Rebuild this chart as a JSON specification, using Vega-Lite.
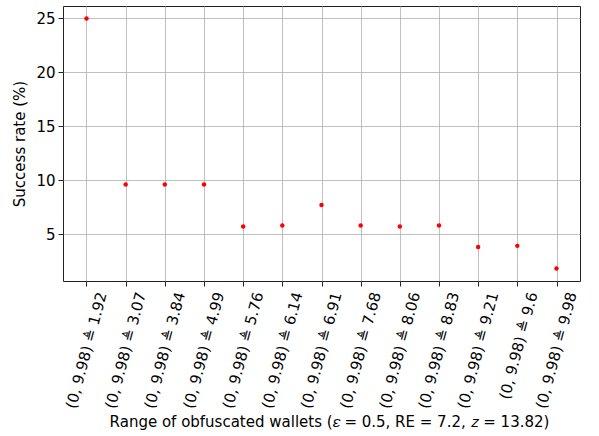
{
  "$schema": "https://vega.github.io/schema/vega-lite/v6.json",
  "width": 517,
  "height": 275,
  "autosize": "none",
  "padding": {"left": 63, "top": 6, "right": 19, "bottom": 155},
  "background": "white",
  "config": {
    "font": "DejaVu Sans",
    "view": {"stroke": "#222222", "strokeWidth": 1},
    "axis": {
      "labelFont": "DejaVu Sans",
      "titleFont": "DejaVu Sans",
      "labelFontSize": 15,
      "titleFontSize": 15,
      "labelColor": "#000000",
      "titleColor": "#000000",
      "titleFontWeight": "normal",
      "tickColor": "#222222",
      "tickSize": 5,
      "domain": false,
      "gridColor": "#b0b0b0",
      "gridWidth": 0.8,
      "gridOpacity": 1
    }
  },
  "data": {
    "values": [
      {"range": "(0, 9.98) ≜ 1.92", "rate": 25.0},
      {"range": "(0, 9.98) ≜ 3.07", "rate": 9.6},
      {"range": "(0, 9.98) ≜ 3.84", "rate": 9.6},
      {"range": "(0, 9.98) ≜ 4.99", "rate": 9.6},
      {"range": "(0, 9.98) ≜ 5.76", "rate": 5.7},
      {"range": "(0, 9.98) ≜ 6.14", "rate": 5.8},
      {"range": "(0, 9.98) ≜ 6.91", "rate": 7.7},
      {"range": "(0, 9.98) ≜ 7.68", "rate": 5.8},
      {"range": "(0, 9.98) ≜ 8.06", "rate": 5.7},
      {"range": "(0, 9.98) ≜ 8.83", "rate": 5.8},
      {"range": "(0, 9.98) ≜ 9.21", "rate": 3.8},
      {"range": "(0, 9.98) ≜ 9.6", "rate": 3.9},
      {"range": "(0, 9.98) ≜ 9.98", "rate": 1.8}
    ]
  },
  "mark": {"type": "point", "filled": true, "color": "#ff0000", "opacity": 1, "size": 20},
  "encoding": {
    "x": {
      "field": "range",
      "type": "ordinal",
      "sort": null,
      "scale": {"type": "point", "padding": 0.6},
      "axis": {
        "title": "Range of obfuscated wallets (𝜀 = 0.5, RE = 7.2, 𝑧 = 13.82)",
        "titleX": 266,
        "labelAngle": -75,
        "labelAlign": "right",
        "labelBaseline": "middle",
        "labelOffset": 15,
        "labelPadding": 6,
        "titlePadding": 5,
        "grid": true
      }
    },
    "y": {
      "field": "rate",
      "type": "quantitative",
      "scale": {"domain": [0.64, 26.16], "nice": false, "zero": false},
      "axis": {
        "title": "Success rate (%)",
        "values": [5, 10, 15, 20, 25],
        "labelPadding": 3,
        "titlePadding": 8,
        "grid": true
      }
    }
  }
}
